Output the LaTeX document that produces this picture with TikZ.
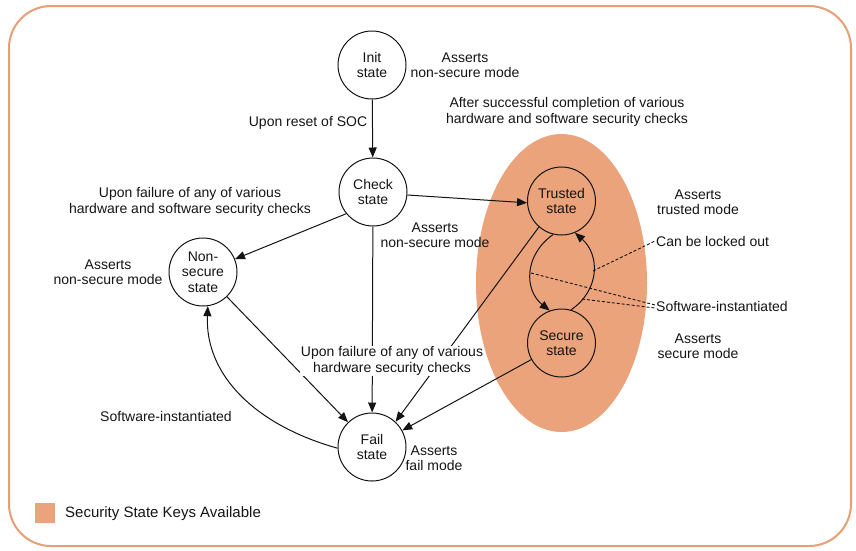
\documentclass[tikz,border=0pt]{standalone}
\usepackage{fontspec}
\setmainfont{Liberation Sans}
\usetikzlibrary{arrows.meta}
\definecolor{keyfill}{RGB}{235,163,123}
\definecolor{framecol}{RGB}{232,158,118}
\definecolor{ink}{RGB}{20,20,20}
\begin{document}
\begin{tikzpicture}[x=1pt,y=-1pt,
  every node/.style={font=\fontsize{14}{15.5}\selectfont, text=ink},
  state/.style={circle, draw=ink, line width=1pt, minimum size=68pt, inner sep=0pt, align=center},
  note/.style={align=center, inner sep=1pt},
  edge/.style={draw=ink, line width=1pt, -{Triangle[length=10pt,width=8pt]}},
  hint/.style={draw=ink, line width=0.9pt, dash pattern=on 3pt off 2pt}]
\useasboundingbox (0,0) rectangle (856,550);
% outer frame
\draw[framecol, line width=2pt, rounded corners=42pt] (9,6) rectangle (851,546);
% region where security state keys are available
\fill[keyfill] (561.5,283) ellipse [x radius=85.5pt, y radius=149pt];

% states
\node[state] (init) at (372,65) {Init\\state};
\node[state] (check) at (373,192) {Check\\state};
\node[state] (nonsec) at (203,272) {Non-\\secure\\state};
\node[state] (fail) at (372,447) {Fail\\state};
\node[state] (trusted) at (561.5,201) {Trusted\\state};
\node[state] (secure) at (561.5,343) {Secure\\state};

% transitions
\draw[edge] (init) -- (check);
\draw[edge] (check.-5) -- (trusted.183);
\draw[edge] (check.219) -- (nonsec.22);
\draw[edge] (check) -- (fail);
\draw[edge] (nonsec) -- (fail);
\draw[edge] (trusted.229) -- (fail.47);
\draw[edge] (secure) -- (fail);
\draw[edge] (trusted.256) .. controls (524,255) and (524,290) .. (secure.110);
\draw[edge] (secure.74) .. controls (600,290) and (600,255) .. (trusted.293);
\draw[edge] (fail.182) .. controls (255,425) and (205,375) .. (nonsec.278);

% labels
\node[note] at (465,65) {Asserts\\non-secure mode};
\node[note] at (567,112) {After successful completion of various\\hardware and software security checks};
\node[note] at (308,123) {Upon reset of SOC};
\node[note] at (190,202) {Upon failure of any of various\\hardware and software security checks};
\node[note] at (108,272) {Asserts\\non-secure mode};
\node[note] at (435,235) {Asserts\\non-secure mode};
\node[note, fill=white] at (392,361) {Upon failure of any of various\\hardware security checks};
\node[note] at (166,416) {Software-instantiated};
\node[note] at (434,458) {Asserts\\fail mode};
\node[note] at (698,202) {Asserts\\trusted mode};
\node[note, anchor=west] (lock) at (655,241) {Can be locked out};
\node[note, anchor=west] (swi) at (655,306) {Software-instantiated};
\node[note] at (698,346) {Asserts\\secure mode};

% callout leaders
\coordinate (locktap) at (593,271);
\coordinate (lefttap) at (531,273);
\coordinate (righttap) at (582,299);
\draw[hint] (locktap) -- (lock.west);
\draw[hint] (lefttap) -- ([yshift=1pt]swi.west);
\draw[hint] (righttap) -- ([yshift=-2pt]swi.west);

% legend
\fill[keyfill] (35,503) rectangle (55,523);
\node[note, anchor=west, font=\fontsize{15}{17}\selectfont] at (64,514) {Security State Keys Available};
\end{tikzpicture}
\end{document}
